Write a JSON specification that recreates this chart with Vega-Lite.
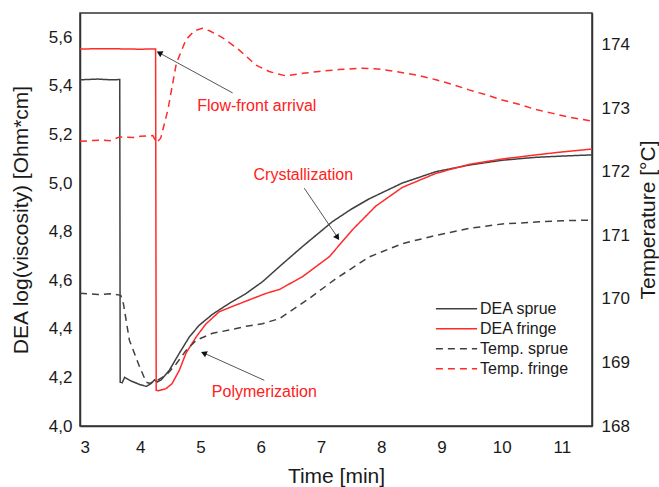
{
  "$schema": "https://vega.github.io/schema/vega-lite/v6.json",
  "autosize": "none",
  "width": 512,
  "height": 413,
  "padding": {"left": 80, "top": 13, "right": 67, "bottom": 61},
  "background": "white",
  "config": {
    "font": "Liberation Sans",
    "view": {"stroke": "#333333", "strokeWidth": 1.5},
    "axis": {
      "domainColor": "#333333",
      "domainWidth": 1.5,
      "ticks": false,
      "labelColor": "#1a1a1a",
      "labelFontSize": 17,
      "labelFont": "Liberation Sans",
      "titleFont": "Liberation Sans",
      "titleFontSize": 21,
      "titleFontWeight": "normal",
      "titleColor": "#1a1a1a",
      "grid": false
    },
    "legend": {"labelFont": "Liberation Sans"}
  },
  "datasets": {
    "dea": [
      {"t": 3.0, "v": 5.425, "s": "DEA sprue"},
      {"t": 3.3, "v": 5.428, "s": "DEA sprue"},
      {"t": 3.5, "v": 5.425, "s": "DEA sprue"},
      {"t": 3.66, "v": 5.426, "s": "DEA sprue"},
      {"t": 3.667, "v": 4.18, "s": "DEA sprue"},
      {"t": 3.7, "v": 4.178, "s": "DEA sprue"},
      {"t": 3.74, "v": 4.2, "s": "DEA sprue"},
      {"t": 3.85, "v": 4.185, "s": "DEA sprue"},
      {"t": 4.0, "v": 4.17, "s": "DEA sprue"},
      {"t": 4.1, "v": 4.163, "s": "DEA sprue"},
      {"t": 4.18, "v": 4.175, "s": "DEA sprue"},
      {"t": 4.24, "v": 4.19, "s": "DEA sprue"},
      {"t": 4.28, "v": 4.181, "s": "DEA sprue"},
      {"t": 4.35, "v": 4.19, "s": "DEA sprue"},
      {"t": 4.484, "v": 4.23, "s": "DEA sprue"},
      {"t": 4.65, "v": 4.3, "s": "DEA sprue"},
      {"t": 4.816, "v": 4.367, "s": "DEA sprue"},
      {"t": 4.98, "v": 4.415, "s": "DEA sprue"},
      {"t": 5.2, "v": 4.46, "s": "DEA sprue"},
      {"t": 5.48, "v": 4.505, "s": "DEA sprue"},
      {"t": 5.76, "v": 4.546, "s": "DEA sprue"},
      {"t": 6.03, "v": 4.594, "s": "DEA sprue"},
      {"t": 6.31, "v": 4.656, "s": "DEA sprue"},
      {"t": 6.69, "v": 4.738, "s": "DEA sprue"},
      {"t": 7.19, "v": 4.841, "s": "DEA sprue"},
      {"t": 7.5, "v": 4.892, "s": "DEA sprue"},
      {"t": 7.8, "v": 4.935, "s": "DEA sprue"},
      {"t": 8.35, "v": 5.0, "s": "DEA sprue"},
      {"t": 8.91, "v": 5.047, "s": "DEA sprue"},
      {"t": 9.46, "v": 5.074, "s": "DEA sprue"},
      {"t": 10.01, "v": 5.094, "s": "DEA sprue"},
      {"t": 10.57, "v": 5.106, "s": "DEA sprue"},
      {"t": 11.0, "v": 5.111, "s": "DEA sprue"},
      {"t": 11.5, "v": 5.116, "s": "DEA sprue"},
      {"t": 3.0, "v": 5.552, "s": "DEA fringe"},
      {"t": 3.5, "v": 5.553, "s": "DEA fringe"},
      {"t": 4.0, "v": 5.551, "s": "DEA fringe"},
      {"t": 4.255, "v": 5.552, "s": "DEA fringe"},
      {"t": 4.265, "v": 4.147, "s": "DEA fringe"},
      {"t": 4.3, "v": 4.145, "s": "DEA fringe"},
      {"t": 4.43, "v": 4.154, "s": "DEA fringe"},
      {"t": 4.53, "v": 4.175, "s": "DEA fringe"},
      {"t": 4.65, "v": 4.23, "s": "DEA fringe"},
      {"t": 4.76, "v": 4.3, "s": "DEA fringe"},
      {"t": 4.93, "v": 4.367, "s": "DEA fringe"},
      {"t": 5.09, "v": 4.42, "s": "DEA fringe"},
      {"t": 5.31, "v": 4.47, "s": "DEA fringe"},
      {"t": 5.59, "v": 4.498, "s": "DEA fringe"},
      {"t": 5.87, "v": 4.525, "s": "DEA fringe"},
      {"t": 6.09, "v": 4.546, "s": "DEA fringe"},
      {"t": 6.31, "v": 4.562, "s": "DEA fringe"},
      {"t": 6.69, "v": 4.614, "s": "DEA fringe"},
      {"t": 7.14, "v": 4.697, "s": "DEA fringe"},
      {"t": 7.52, "v": 4.807, "s": "DEA fringe"},
      {"t": 7.91, "v": 4.905, "s": "DEA fringe"},
      {"t": 8.35, "v": 4.982, "s": "DEA fringe"},
      {"t": 8.91, "v": 5.04, "s": "DEA fringe"},
      {"t": 9.46, "v": 5.077, "s": "DEA fringe"},
      {"t": 10.01, "v": 5.099, "s": "DEA fringe"},
      {"t": 10.57, "v": 5.116, "s": "DEA fringe"},
      {"t": 11.0, "v": 5.128, "s": "DEA fringe"},
      {"t": 11.5, "v": 5.14, "s": "DEA fringe"}
    ],
    "temp": [
      {"t": 3.0, "T": 170.09, "s": "Temp. sprue"},
      {"t": 3.3, "T": 170.07, "s": "Temp. sprue"},
      {"t": 3.5, "T": 170.08, "s": "Temp. sprue"},
      {"t": 3.66, "T": 170.06, "s": "Temp. sprue"},
      {"t": 3.68, "T": 170.05, "s": "Temp. sprue"},
      {"t": 3.7, "T": 169.97, "s": "Temp. sprue"},
      {"t": 3.72, "T": 169.93, "s": "Temp. sprue"},
      {"t": 3.82, "T": 169.35, "s": "Temp. sprue"},
      {"t": 3.99, "T": 168.93, "s": "Temp. sprue"},
      {"t": 4.1, "T": 168.69, "s": "Temp. sprue"},
      {"t": 4.16, "T": 168.67, "s": "Temp. sprue"},
      {"t": 4.22, "T": 168.7, "s": "Temp. sprue"},
      {"t": 4.29, "T": 168.72, "s": "Temp. sprue"},
      {"t": 4.43, "T": 168.8, "s": "Temp. sprue"},
      {"t": 4.6, "T": 168.98, "s": "Temp. sprue"},
      {"t": 4.76, "T": 169.19, "s": "Temp. sprue"},
      {"t": 4.93, "T": 169.35, "s": "Temp. sprue"},
      {"t": 5.2, "T": 169.46, "s": "Temp. sprue"},
      {"t": 5.48, "T": 169.51, "s": "Temp. sprue"},
      {"t": 5.76, "T": 169.57, "s": "Temp. sprue"},
      {"t": 6.03, "T": 169.61, "s": "Temp. sprue"},
      {"t": 6.31, "T": 169.69, "s": "Temp. sprue"},
      {"t": 6.81, "T": 170.01, "s": "Temp. sprue"},
      {"t": 7.25, "T": 170.32, "s": "Temp. sprue"},
      {"t": 7.8, "T": 170.66, "s": "Temp. sprue"},
      {"t": 8.35, "T": 170.87, "s": "Temp. sprue"},
      {"t": 8.91, "T": 171.0, "s": "Temp. sprue"},
      {"t": 9.46, "T": 171.11, "s": "Temp. sprue"},
      {"t": 10.01, "T": 171.18, "s": "Temp. sprue"},
      {"t": 10.57, "T": 171.21, "s": "Temp. sprue"},
      {"t": 11.0, "T": 171.23, "s": "Temp. sprue"},
      {"t": 11.5, "T": 171.24, "s": "Temp. sprue"},
      {"t": 3.0, "T": 172.48, "s": "Temp. fringe"},
      {"t": 3.33, "T": 172.5, "s": "Temp. fringe"},
      {"t": 3.5, "T": 172.49, "s": "Temp. fringe"},
      {"t": 3.66, "T": 172.55, "s": "Temp. fringe"},
      {"t": 3.88, "T": 172.54, "s": "Temp. fringe"},
      {"t": 4.0, "T": 172.56, "s": "Temp. fringe"},
      {"t": 4.21, "T": 172.57, "s": "Temp. fringe"},
      {"t": 4.27, "T": 172.46, "s": "Temp. fringe"},
      {"t": 4.34, "T": 172.53, "s": "Temp. fringe"},
      {"t": 4.46, "T": 172.98, "s": "Temp. fringe"},
      {"t": 4.6, "T": 173.71, "s": "Temp. fringe"},
      {"t": 4.76, "T": 174.08, "s": "Temp. fringe"},
      {"t": 4.9, "T": 174.22, "s": "Temp. fringe"},
      {"t": 5.03, "T": 174.26, "s": "Temp. fringe"},
      {"t": 5.15, "T": 174.22, "s": "Temp. fringe"},
      {"t": 5.37, "T": 174.11, "s": "Temp. fringe"},
      {"t": 5.64, "T": 173.92, "s": "Temp. fringe"},
      {"t": 5.92, "T": 173.68, "s": "Temp. fringe"},
      {"t": 6.14, "T": 173.58, "s": "Temp. fringe"},
      {"t": 6.25, "T": 173.55, "s": "Temp. fringe"},
      {"t": 6.42, "T": 173.51, "s": "Temp. fringe"},
      {"t": 6.7, "T": 173.55, "s": "Temp. fringe"},
      {"t": 6.97, "T": 173.58, "s": "Temp. fringe"},
      {"t": 7.3, "T": 173.61, "s": "Temp. fringe"},
      {"t": 7.63, "T": 173.63, "s": "Temp. fringe"},
      {"t": 7.95, "T": 173.62, "s": "Temp. fringe"},
      {"t": 8.24, "T": 173.58, "s": "Temp. fringe"},
      {"t": 8.6, "T": 173.52, "s": "Temp. fringe"},
      {"t": 8.91, "T": 173.45, "s": "Temp. fringe"},
      {"t": 9.2, "T": 173.37, "s": "Temp. fringe"},
      {"t": 9.46, "T": 173.29, "s": "Temp. fringe"},
      {"t": 9.75, "T": 173.21, "s": "Temp. fringe"},
      {"t": 10.01, "T": 173.13, "s": "Temp. fringe"},
      {"t": 10.3, "T": 173.06, "s": "Temp. fringe"},
      {"t": 10.57, "T": 172.98, "s": "Temp. fringe"},
      {"t": 10.85, "T": 172.92, "s": "Temp. fringe"},
      {"t": 11.12, "T": 172.86, "s": "Temp. fringe"},
      {"t": 11.5, "T": 172.8, "s": "Temp. fringe"}
    ],
    "arrows": [
      {"t": 5.534, "v": 5.371, "t2": 4.3, "v2": 5.538},
      {"t": 6.723, "v": 4.979, "t2": 7.28, "v2": 4.775},
      {"t": 6.06, "v": 4.188, "t2": 5.04, "v2": 4.302}
    ],
    "heads": [
      {"t": 4.317, "v": 5.536, "a": 298.7},
      {"t": 7.275, "v": 4.776, "a": 145.9},
      {"t": 5.055, "v": 4.3, "a": 294.1}
    ],
    "labels": [
      {"t": 5.935, "v": 5.318, "label": "Flow-front arrival"},
      {"t": 6.707, "v": 5.034, "label": "Crystallization"},
      {"t": 6.06, "v": 4.14, "label": "Polymerization"}
    ]
  },
  "layer": [
    {
      "encoding": {
        "x": {
          "field": "t", "type": "quantitative",
          "scale": {"domain": [3, 11.5], "nice": false, "zero": false},
          "axis": {
            "title": "Time [min]",
            "orient": "bottom",
            "values": [3, 4, 5, 6, 7, 8, 9, 10, 11],
            "labelExpr": "format(datum.value, 'd')",
            "labelPadding": 13,
            "titlePadding": 10
          }
        },
        "y": {
          "field": "v", "type": "quantitative",
          "scale": {"domain": [4.0, 5.7], "nice": false, "zero": false},
          "axis": {
            "title": "DEA log(viscosity) [Ohm*cm]",
            "orient": "left",
            "values": [4.0, 4.2, 4.4, 4.6, 4.8, 5.0, 5.2, 5.4, 5.6],
            "labelExpr": "replace(format(datum.value, '.1f'), '.', ',')",
            "labelPadding": 8,
            "titlePadding": 17
          }
        }
      },
      "layer": [
        {
          "data": {"name": "dea"},
          "mark": {"type": "line", "strokeWidth": 1.5},
          "encoding": {
            "color": {
              "field": "s", "type": "nominal",
              "scale": {"domain": ["DEA sprue", "DEA fringe", "Temp. sprue", "Temp. fringe"], "range": ["#404040", "#ff2a2a", "#404040", "#ff2a2a"]},
              "legend": {
                "title": null, "orient": "none", "legendX": 355, "legendY": 286,
                "symbolType": "stroke", "symbolSize": 1700, "symbolStrokeWidth": 1.5,
                "labelFontSize": 16, "labelColor": "#1a1a1a", "labelOffset": 2,
                "clipHeight": 19.5, "rowPadding": 0, "padding": 0, "labelLimit": 300
              }
            },
            "strokeDash": {
              "field": "s", "type": "nominal",
              "scale": {"domain": ["DEA sprue", "DEA fringe", "Temp. sprue", "Temp. fringe"], "range": [[1, 0], [1, 0], [7, 5], [7, 5]]},
              "legend": {
                "title": null, "orient": "none", "legendX": 355, "legendY": 286,
                "symbolType": "stroke", "symbolSize": 1700, "symbolStrokeWidth": 1.5,
                "labelFontSize": 16, "labelColor": "#1a1a1a", "labelOffset": 2,
                "clipHeight": 19.5, "rowPadding": 0, "padding": 0, "labelLimit": 300
              }
            }
          }
        },
        {
          "data": {"name": "arrows"},
          "mark": {"type": "rule", "color": "#555555", "strokeWidth": 1},
          "encoding": {
            "x2": {"field": "t2"},
            "y2": {"field": "v2"}
          }
        },
        {
          "data": {"name": "heads"},
          "mark": {"type": "point", "shape": "triangle-up", "filled": true, "color": "#111111", "size": 45, "opacity": 1},
          "encoding": {
            "angle": {"field": "a", "type": "quantitative", "scale": null}
          }
        },
        {
          "data": {"name": "labels"},
          "mark": {"type": "text", "color": "#ff2020", "fontSize": 16, "font": "Liberation Sans", "align": "center", "baseline": "middle"},
          "encoding": {
            "text": {"field": "label", "type": "nominal"}
          }
        }
      ]
    },
    {
      "data": {"name": "temp"},
      "mark": {"type": "line", "strokeWidth": 1.5},
      "encoding": {
        "x": {
          "field": "t", "type": "quantitative",
          "scale": {"domain": [3, 11.5], "nice": false, "zero": false},
          "axis": null
        },
        "y": {
          "field": "T", "type": "quantitative",
          "scale": {"domain": [168, 174.5], "nice": false, "zero": false},
          "axis": {
            "title": "Temperature [°C]",
            "orient": "right",
            "titleAngle": -90,
            "titleBaseline": "top",
            "values": [168, 169, 170, 171, 172, 173, 174],
            "labelExpr": "format(datum.value, 'd')",
            "labelPadding": 9,
            "titlePadding": 8
          }
        },
        "color": {"field": "s", "type": "nominal"},
        "strokeDash": {"field": "s", "type": "nominal"}
      }
    }
  ],
  "resolve": {"scale": {"x": "independent", "y": "independent"}}
}
